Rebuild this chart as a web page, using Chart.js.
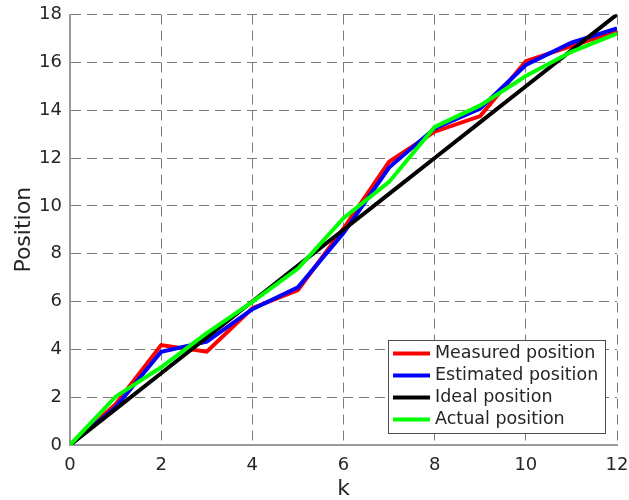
<!DOCTYPE html>
<html>
<head>
<meta charset="utf-8">
<script src="https://cdn.jsdelivr.net/npm/chart.js@4.4.0/dist/chart.umd.min.js"></script>
<style>
  html, body { margin: 0; padding: 0; background: #fff; }
  #wrap { width: 629px; height: 500px; }
</style>
</head>
<body>
<div id="wrap"><canvas id="myChart"></canvas></div>
<script>
const steps = [0, 1, 2, 3, 4, 5, 6, 7, 8, 9, 10, 11, 12];
const measured = [0, 1.7, 4.18, 3.9, 5.72, 6.48, 9.05, 11.84, 13.1, 13.75, 16.05, 16.68, 17.3];
const estimated = [0, 1.58, 3.9, 4.32, 5.68, 6.59, 8.86, 11.6, 13.24, 14.07, 15.89, 16.82, 17.42];
const ideal = [0, 1.5, 3, 4.5, 6, 7.5, 9, 10.5, 12, 13.5, 15, 16.5, 18];
const actual = [0, 2.02, 3.25, 4.68, 5.98, 7.38, 9.48, 11.0, 13.3, 14.2, 15.43, 16.44, 17.2];
const seriesNames = ['Measured position', 'Estimated position', 'Ideal position', 'Actual position'];
const seriesColors = ['#ff0000', '#0000ff', '#000000', '#00ff00'];
const xTicks = [0, 2, 4, 6, 8, 10, 12];
const yTicks = [0, 2, 4, 6, 8, 10, 12, 14, 16, 18];

const fontFamily = 'DejaVu Sans';
const textColor = '#262626';

function toPoints(values) {
  return values.map((v, i) => ({ x: steps[i], y: v }));
}

// legend box in the lower right corner of the plot, like matlab's 'southeast'
const boxLegend = {
  id: 'boxLegend',
  afterDraw(chart) {
    const ctx = chart.ctx;
    const area = chart.chartArea;
    const boxW = 217, boxH = 93;
    const x0 = area.right - 12 - boxW;
    const y0 = area.bottom - 12 - boxH;
    ctx.save();
    ctx.fillStyle = '#ffffff';
    ctx.fillRect(x0, y0, boxW, boxH);
    ctx.strokeStyle = '#4d4d4d';
    ctx.lineWidth = 1;
    ctx.strokeRect(x0 + 0.5, y0 + 0.5, boxW, boxH);
    ctx.font = '17.5px ' + fontFamily;
    ctx.textBaseline = 'middle';
    ctx.textAlign = 'left';
    seriesNames.forEach((name, i) => {
      const cy = y0 + 13.5 + i * 22;
      ctx.strokeStyle = seriesColors[i];
      ctx.lineWidth = 4;
      ctx.beginPath();
      ctx.moveTo(x0 + 5, cy);
      ctx.lineTo(x0 + 42, cy);
      ctx.stroke();
      ctx.fillStyle = textColor;
      ctx.fillText(name, x0 + 47, cy);
    });
    ctx.restore();
  }
};

const datasets = [measured, estimated, ideal, actual].map((vals, i) => ({
  label: seriesNames[i],
  data: toPoints(vals),
  borderColor: seriesColors[i],
  backgroundColor: seriesColors[i],
  borderWidth: 4,
  pointRadius: 0,
  tension: 0,
  // green on top, then black, blue, red
  order: 3 - i
}));

const ctx = document.getElementById('myChart');
new Chart(ctx, {
  type: 'line',
  data: { datasets: datasets },
  options: {
    responsive: true,
    maintainAspectRatio: false,
    animation: false,
    layout: { padding: { top: 14.5, right: 12, left: 0, bottom: 0 } },
    plugins: {
      legend: { display: false },
      tooltip: { enabled: false }
    },
    scales: {
      x: {
        type: 'linear',
        min: 0,
        max: 12,
        afterBuildTicks: (scale) => { scale.ticks = xTicks.map(v => ({ value: v })); },
        afterFit: (scale) => {
          scale.height = 55;
          scale.paddingLeft = 0;
          scale.paddingRight = 0;
        },
        ticks: {
          color: textColor,
          font: { family: fontFamily, size: 18 },
          padding: 10,
          maxRotation: 0
        },
        grid: { color: '#7a7a7a', lineWidth: 1, drawTicks: false },
        border: { display: true, color: '#9a9a9a', width: 2, dash: [10, 6] },
        title: {
          display: true,
          text: 'k',
          color: textColor,
          font: { family: fontFamily, size: 22, lineHeight: 1.0 },
          padding: { top: 0, bottom: 0 }
        }
      },
      y: {
        type: 'linear',
        min: 0,
        max: 18,
        afterBuildTicks: (scale) => { scale.ticks = yTicks.map(v => ({ value: v })); },
        afterFit: (scale) => {
          scale.width = 70;
          scale.paddingTop = 0;
          scale.paddingBottom = 0;
        },
        ticks: {
          color: textColor,
          font: { family: fontFamily, size: 18 },
          padding: 8
        },
        grid: { color: '#7a7a7a', lineWidth: 1, drawTicks: false },
        border: { display: true, color: '#9a9a9a', width: 2, dash: [10, 6] },
        title: {
          display: true,
          text: 'Position',
          color: textColor,
          font: { family: fontFamily, size: 22 },
          padding: { top: 11, bottom: 0 }
        }
      }
    }
  },
  plugins: [boxLegend]
});
</script>
</body>
</html>
